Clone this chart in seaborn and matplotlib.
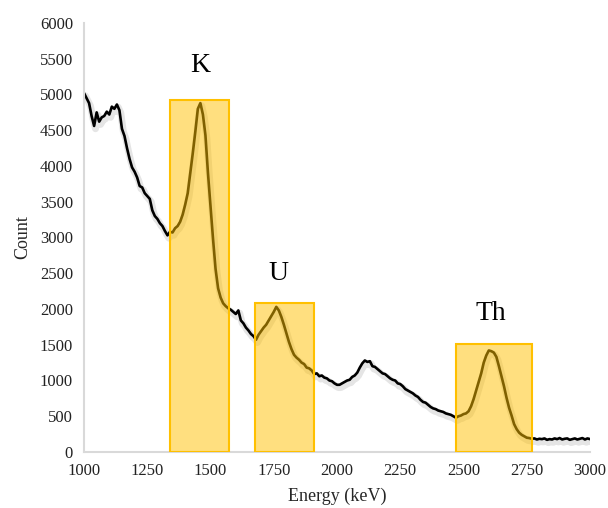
import numpy as np
import pandas as pd
import matplotlib
matplotlib.use("Agg")
import matplotlib.pyplot as plt
import matplotlib.patheffects as pe
from matplotlib.patches import Rectangle
import seaborn as sns

# Energy grid (keV) and counts
energy = list(range(1000, 3001, 10))
counts = [
    5020, 4950, 4880, 4700, 4560, 4750, 4620, 4680, 4700, 4760,
    4720, 4830, 4800, 4860, 4780, 4520, 4420, 4250, 4100, 3980,
    3920, 3840, 3720, 3700, 3620, 3580, 3540, 3380, 3300, 3260,
    3200, 3160, 3090, 3030, 3080, 3070, 3130, 3160, 3220, 3320,
    3460, 3620, 3900, 4180, 4480, 4800, 4880, 4720, 4430, 3900,
    3430, 2980, 2560, 2290, 2160, 2080, 2040, 2010, 1990, 1960,
    1930, 1980, 1840, 1800, 1740, 1700, 1650, 1620, 1570, 1640,
    1690, 1740, 1780, 1840, 1900, 1960, 2030, 1980, 1890, 1780,
    1660, 1540, 1440, 1360, 1320, 1290, 1250, 1230, 1180, 1170,
    1140, 1090, 1100, 1060, 1070, 1040, 1030, 1000, 990, 960,
    940, 940, 960, 980, 1000, 1010, 1050, 1070, 1110, 1180,
    1240, 1280, 1260, 1270, 1200, 1190, 1160, 1130, 1100, 1090,
    1060, 1030, 1010, 1000, 960, 950, 920, 880, 860, 840,
    820, 790, 770, 730, 700, 690, 660, 630, 610, 600,
    580, 570, 560, 540, 530, 520, 500, 480, 500, 510,
    530, 540, 570, 640, 740, 860, 980, 1100, 1250, 1350,
    1420, 1410, 1390, 1330, 1200, 1060, 920, 760, 620, 510,
    390, 320, 270, 240, 220, 200, 195, 185, 190, 175,
    185, 180, 190, 170, 180, 175, 190, 180, 195, 175,
    185, 190, 170, 180, 190, 175, 185, 195, 175, 190,
    180,
]

# Highlighted windows
win_labels = ["K", "U", "Th"]
win_start = [1340, 1675, 2470]
win_end = [1572, 1910, 2770]
win_top = [4920, 2080, 1515]
label_x = [1458, 1767, 2609]
label_y = [5410, 2500, 1940]

sns.set_style("white")
plt.rcParams['font.family'] = ['Liberation Serif', 'DejaVu Serif']

fig = plt.figure(figsize=(6.08, 5.08), dpi=100)
ax = fig.add_axes([84/608, 1-452/508, (590-84)/608, (452-23)/508])

df = pd.DataFrame({"Energy": energy, "Count": counts})
sns.lineplot(data=df, x="Energy", y="Count", ax=ax, color="black", lw=1.9,
             path_effects=[pe.SimpleLineShadow(offset=(1.0, -2.0), alpha=0.10, shadow_color='black', linewidth=5),
                           pe.Normal()], zorder=2)

for lab, s, e, t, lx, ly in zip(win_labels, win_start, win_end, win_top, label_x, label_y):
    ax.add_patch(Rectangle((s, 0), e - s, t, facecolor=(1.0, 0.753, 0.0, 0.5),
                           edgecolor='#FFC000', lw=1.5, zorder=3))
    ax.text(lx, ly, lab, ha='center', va='center', fontsize=20, color='black')

ax.set_xlim(1000, 3000)
ax.set_ylim(0, 6000)
ax.set_xticks(range(1000, 3001, 250))
ax.set_yticks(range(0, 6001, 500))
ax.set_xlabel("Energy (keV)", fontsize=13, labelpad=6)
ax.set_ylabel("Count", fontsize=13, labelpad=6)
ax.tick_params(axis='both', labelsize=12, colors='#222222', direction='out',
               length=5, width=1.2, color='#d9d9d9', pad=3)
for side in ['top', 'right']:
    ax.spines[side].set_visible(False)
for side in ['left', 'bottom']:
    ax.spines[side].set_color('#d9d9d9')
    ax.spines[side].set_linewidth(1.5)

fig.savefig("out.png", dpi=100)
